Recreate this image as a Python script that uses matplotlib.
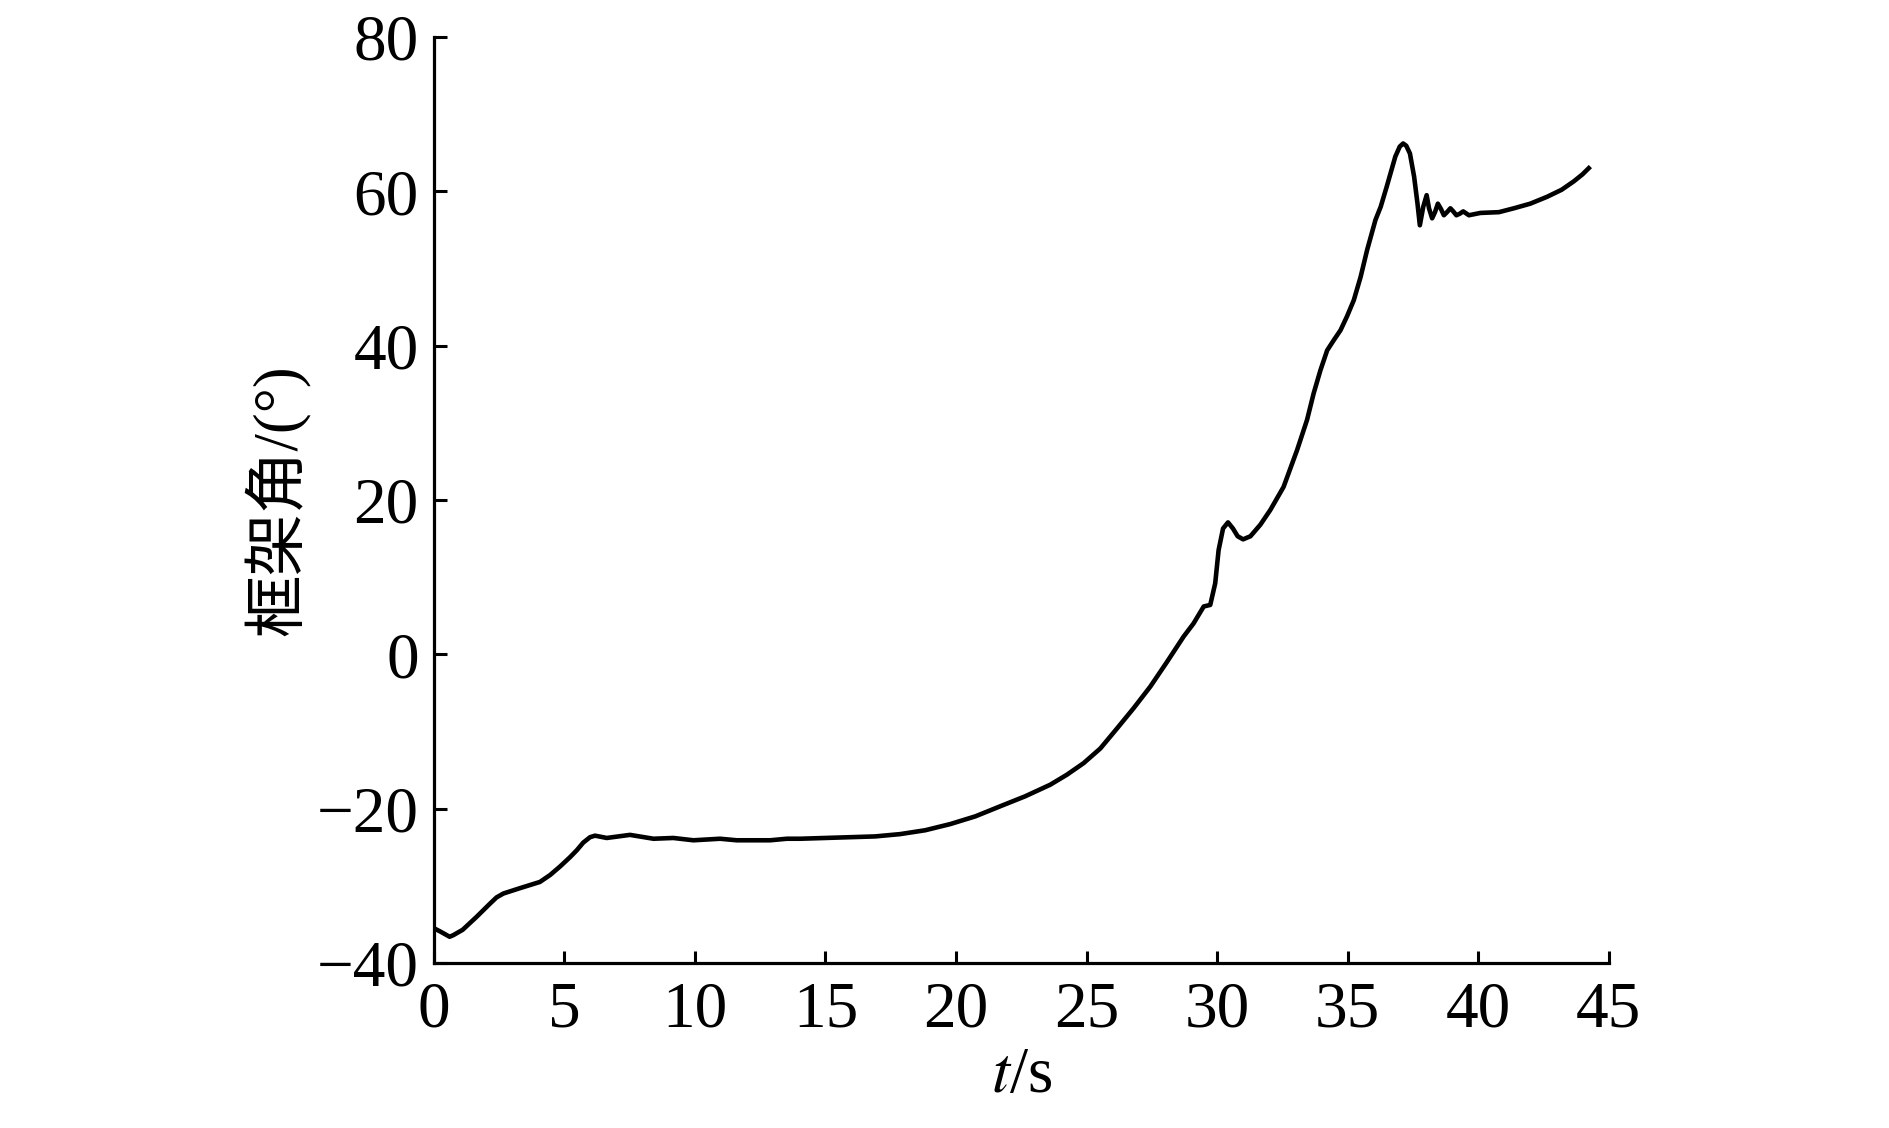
import matplotlib.pyplot as plt
import numpy as np

# gimbal angle vs time
t = [0.0, 0.23, 0.6, 0.74, 1.1, 1.64, 2.15, 2.4, 2.66, 3.3, 3.68, 4.06,
     4.45, 4.83, 5.21, 5.47, 5.72, 5.98, 6.17, 6.62, 7.51, 8.41, 9.17,
     9.94, 10.96, 11.6, 12.88, 13.52, 14.03, 14.99, 15.94, 16.9, 17.86,
     18.82, 19.78, 20.74, 21.69, 22.65, 23.61, 24.25, 24.89, 25.53,
     26.17, 26.8, 27.44, 28.08, 28.72, 29.1, 29.49, 29.74, 29.93,
     30.06, 30.23, 30.42, 30.61, 30.79, 31.0, 31.28, 31.66, 32.04,
     32.55, 33.07, 33.45, 33.7, 33.96, 34.09, 34.22, 34.47, 34.73,
     34.98, 35.24, 35.5, 35.75, 36.07, 36.27, 36.5, 36.83, 37.0, 37.13,
     37.25, 37.39, 37.55, 37.68, 37.77, 37.9, 38.03, 38.12, 38.24,
     38.35, 38.46, 38.58, 38.69, 38.81, 38.94, 39.05, 39.17, 39.3,
     39.43, 39.65, 40.09, 40.8, 41.37, 42.0, 42.65, 43.2, 43.67, 44.0,
     44.24]
angle = [-35.5, -35.9, -36.6, -36.4, -35.7, -34.0, -32.3, -31.5, -31.0,
         -30.3, -29.9, -29.5, -28.6, -27.5, -26.3, -25.4, -24.4, -23.7,
         -23.5, -23.8, -23.4, -23.9, -23.8, -24.1, -23.9, -24.1, -24.1,
         -23.9, -23.9, -23.8, -23.7, -23.6, -23.3, -22.8, -22.0, -21.0,
         -19.7, -18.4, -16.9, -15.6, -14.1, -12.2, -9.6, -7.0, -4.2, -1.0,
         2.3, 4.0, 6.2, 6.4, 9.2, 13.5, 16.3, 17.1, 16.3, 15.3, 14.9,
         15.3, 16.8, 18.7, 21.7, 26.5, 30.4, 33.8, 36.8, 38.1, 39.4, 40.7,
         42.0, 43.8, 45.9, 48.9, 52.4, 56.3, 58.0, 60.6, 64.5, 65.8, 66.2,
         65.9, 64.9, 61.9, 58.4, 55.6, 58.0, 59.5, 57.8, 56.5, 57.3, 58.4,
         57.7, 56.9, 57.3, 57.8, 57.4, 56.9, 57.1, 57.4, 56.9, 57.2, 57.3,
         57.8, 58.4, 59.3, 60.2, 61.3, 62.2, 63.0]

xticks = [0, 5, 10, 15, 20, 25, 30, 35, 40, 45]
yticks = [-40, -20, 0, 20, 40, 60, 80]

plt.rcParams['font.family'] = ['Liberation Serif', 'Noto Sans CJK SC']
plt.rcParams['mathtext.fontset'] = 'stix'

fig = plt.figure(figsize=(18.9, 11.28), dpi=100)
ax = fig.add_axes([0.2296, 0.1463, 0.6215, 0.8209])

ax.plot(t, angle, color='black', lw=3.3, solid_joinstyle='round')

ax.set_xlim(0, 45)
ax.set_ylim(-40, 80)
ax.set_xticks(xticks)
ax.set_yticks(yticks)

for s in ['top', 'right']:
    ax.spines[s].set_visible(False)
for s in ['left', 'bottom']:
    ax.spines[s].set_linewidth(2.3)

ax.tick_params(direction='in', length=9, width=2.2, labelsize=47)
ax.tick_params(axis='x', pad=13)
ax.tick_params(axis='y', pad=11)

ax.set_xlabel('$t$/s', fontsize=47, labelpad=4)
ax.set_ylabel('框架角/(°)', fontsize=45, labelpad=4)

fig.savefig('out.png', dpi=100)
